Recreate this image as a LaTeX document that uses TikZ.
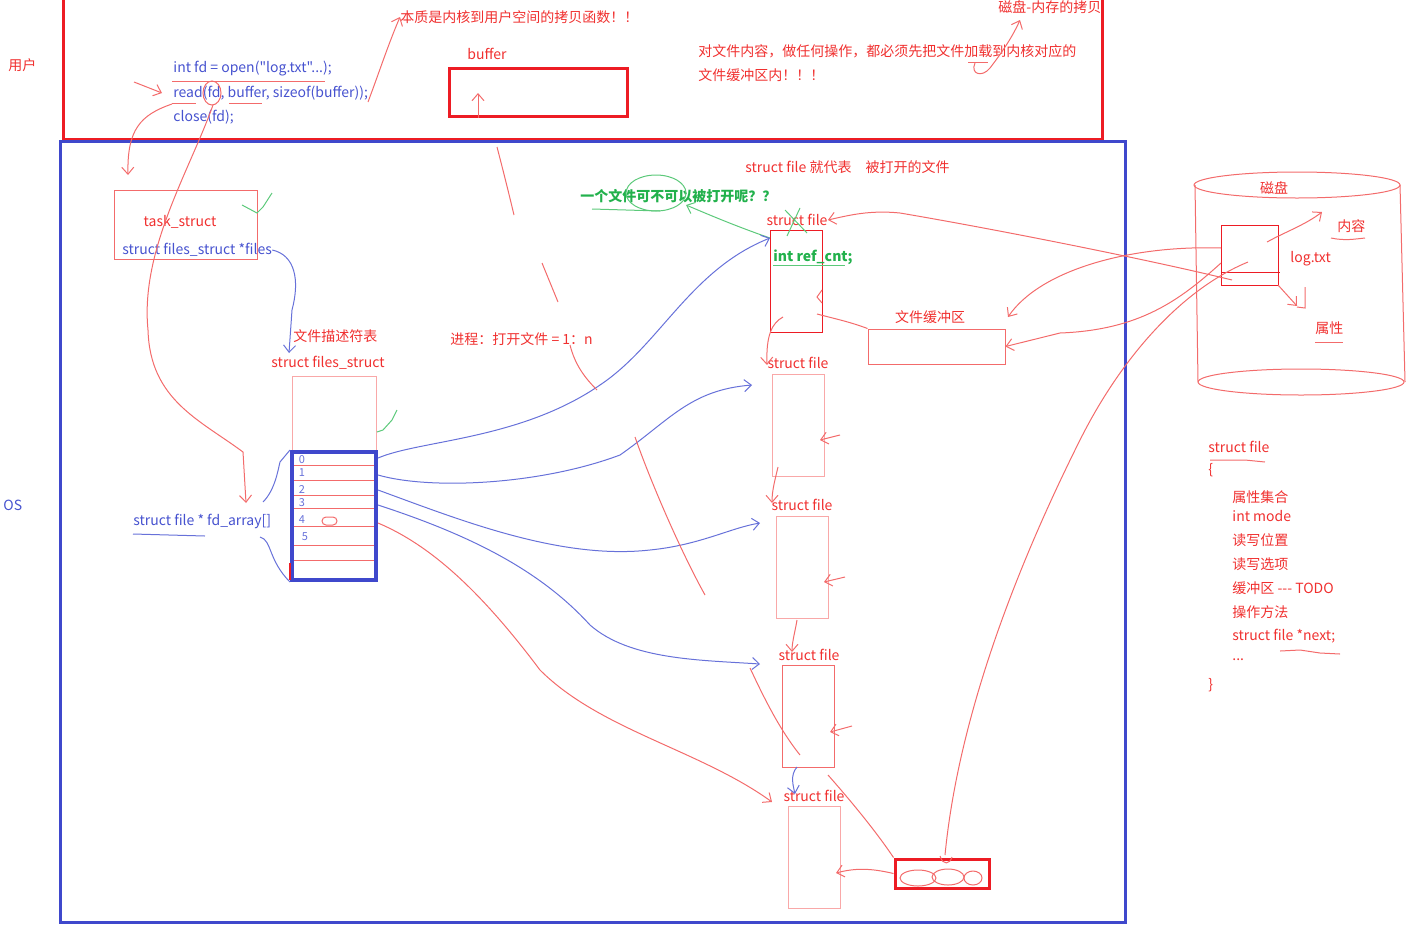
\documentclass[tikz,border=0pt]{standalone}
\usepackage{fontspec}
\setmainfont{Noto Sans CJK SC}
\newfontfamily\plainfont{Noto Sans CJK SC}
\usetikzlibrary{arrows.meta,fit,calc}
\definecolor{rd}{HTML}{ED1C24}
\definecolor{rt}{HTML}{F0302F}
\definecolor{rl}{HTML}{F36B6B}
\definecolor{rp}{HTML}{F9A8A8}
\definecolor{bl}{HTML}{3F48CC}
\definecolor{bt}{HTML}{4652CF}
\definecolor{bc}{HTML}{6771D9}
\definecolor{gr}{HTML}{22B14C}
\definecolor{gl}{HTML}{5CC97A}
\begin{document}
\begin{tikzpicture}[x=0.5pt,y=-0.5pt,
  t/.style={font=\fontsize{7}{8}\selectfont, inner sep=0pt, anchor=west},
  tr/.style={t, text=rt},
  tb/.style={t, text=bt},
  tg/.style={t, text=gr, font=\fontsize{7}{8}\selectfont\bfseries},
  num/.style={inner sep=0pt, text=bc, font=\fontsize{5.5}{5.5}\selectfont\itshape},
  fitbox/.style={inner sep=0pt, draw, line width=0.5pt},
  hand/.style={line width=0.5pt, rl},
  handb/.style={line width=0.5pt, bc},
  handg/.style={line width=0.5pt, gl},
  ah/.style={-{Straight Barb[length=3.5pt,width=6pt]}},
]
\useasboundingbox (0,0) rectangle (1417,932);

% ---------- frames
\node[fitbox, rd, line width=1.5pt, fit={(63,-20)(1102,139)}] (user) {};
\node[fitbox, bl, line width=1.5pt, fit={(60,141)(1125,922)}] (os) {};
\node[tr] (lu) at (8,65) {用户};
\node[tb] (los) at (3,505) {OS};

% ---------- user space
\node[tb] (l1) at (173,69) {\plainfont int fd = open("log.txt"...);};
\node[tb] (l2) at (173,93) {read(fd, buffer, sizeof(buffer));};
\node[tb] (l3) at (173,117) {close(fd);};
\node[tr] (ess) at (400,17) {本质是内核到用户空间的拷贝函数！！};
\node[tr, anchor=center] (bufl) at (487,54) {buffer};
\node[fitbox, rd, line width=1.5pt, fit={(449,68)(627,116)}] (buf) {};
\node[tr] (dm) at (998,7) {磁盘-内存的拷贝};
\node[tr] (n1) at (698,51) {对文件内容，做任何操作，都必须先把文件加载到内核对应的};
\node[tr] (n2) at (698,75) {文件缓冲区内！！！};

% annotations in user space
\draw[hand] (172,81) -- (325,81);
\draw[hand] (172,103) -- (196,103);
\draw[hand] (229,103) -- (262,103);
\draw[hand] (212,93) ellipse [x radius=9, y radius=12];
\coordinate (ra) at (134,82);
\coordinate (rb) at (162,93);
\draw[hand, ah] (ra) -- (rb);
\coordinate (essa) at (368,102);
\draw[hand, ah] (essa) .. controls (380,70) and (388,45) .. (ess.west);
\coordinate (bua) at (478,118);
\coordinate (bub) at (478,93);
\draw[hand, ah] (bua) -- (bub);
\draw[hand] (968,62) -- (988,62);
\coordinate (lda) at (975,63);
\draw[hand, ah] (lda) .. controls (970,74) and (982,78) .. (990,68) .. controls (1000,55) and (1012,38) .. (1020,20);

% ---------- task_struct
\node[fitbox, rl, fit={(114,190)(257,259)}] (task) {};
\node[tr, anchor=center] (taskl) at (180,222) {task\_struct};
\node[tb] (files) at (122,250) {struct files\_struct *files};
\draw[handg] (242,205) -- (257,213) -- (263,207) -- (272,193);

% ---------- files_struct
\node[tr] (fdt) at (293,336) {文件描述符表};
\node[tr, anchor=center] (fsl) at (328,363) {struct files\_struct};
\node[fitbox, rp, fit={(292,376)(376,452)}] (fs) {};
\foreach \y in {465,480,495,508,526,545,560} \draw[rl, line width=0.5pt] (293,\y) -- (375,\y);
\node[fitbox, bl, line width=2pt, fit={(292,452)(376,580)}] (fa) {};
\node[num] at (302,460) {0};
\node[num] at (302,473) {1};
\node[num] at (302,489) {2};
\node[num] at (302,503) {3};
\node[num] at (302,520) {4};
\node[num] at (305,537) {5};
\draw[hand, rounded corners=2pt] (322,517) rectangle (337,525);
\draw[rd, line width=0.7pt] (290,563) -- (290,580);
\draw[handg] (377,432) -- (383,430) -- (392,420) -- (397,410);

\node[tb] (fdarr) at (133,521) {struct file * fd\_array[]};
\draw[handb] (133,534) -- (205,536);
\draw[handb] (263,502) .. controls (275,490) and (278,470) .. (280,462) -- (fa.north west);
\draw[handb] (260,537) .. controls (272,540) and (268,560) .. (fa.south west);

% files pointer and read arrows
\draw[handb, ah] (files.east) .. controls (295,255) and (300,280) .. (292,310) -- (289,353);
\coordinate (cfd) at (213,105);
\coordinate (fd3) at (246,503);
\draw[hand, ah] (cfd) .. controls (190,170) and (140,250) .. (148,330) .. controls (150,400) and (200,420) .. (243,452) -- (fd3);
\coordinate (rdl) at (172,104);
\draw[hand, ah] (rdl) .. controls (140,115) and (127,130) .. (128,175);

% ---------- middle texts
\node[tr] (proc) at (450,339) {进程：打开文件 = 1：n};
\node[tr] (rep) at (745,167) {struct file 就代表\quad 被打开的文件};
\node[tg] (q) at (580,196) {一个文件可不可以被打开呢？？};
\draw[handg] (592,209) -- (660,211);
\draw[handg] (656,193) ellipse [x radius=30, y radius=18];

% ---------- struct file boxes
\node[tr, anchor=center] (sf1l) at (797,220) {struct file};
\node[fitbox, rd, fit={(770,230)(822,332)}] (sf1) {};
\node[tg] (ref) at (773,257) {int ref\_cnt;};
\draw[handg] (773,265) -- (845,265);
\draw[handg] (785,210) -- (807,233);
\draw[handg] (800,208) -- (787,236);
\coordinate (sf1in) at (770,238);
\coordinate (qa) at (686,205);
\draw[handg, ah] (sf1in) .. controls (735,226) and (705,213) .. (qa);

\node[tr, anchor=center] (sf2l) at (798,363) {struct file};
\node[fitbox, rp, fit={(772,374)(824,476)}] (sf2) {};
\node[tr, anchor=center] (sf3l) at (802,505) {struct file};
\node[fitbox, rp, fit={(776,516)(828,618)}] (sf3) {};
\node[tr, anchor=center] (sf4l) at (809,655) {struct file};
\node[fitbox, rl, fit={(782,665)(834,767)}] (sf4) {};
\node[tr, anchor=center] (sf5l) at (814,796) {struct file};
\node[fitbox, rp, fit={(788,806)(840,908)}] (sf5) {};

% linked list
\draw[hand, ah] (783,317) .. controls (772,323) and (766,335) .. (767,365);
\draw[hand, ah] (778,467) .. controls (775,480) and (772,490) .. (772,503);
\draw[hand, ah] (797,620) .. controls (795,632) and (792,642) .. (792,652);
\draw[handb, ah] (797,767) .. controls (790,775) and (793,785) .. (795,794);
\draw[hand] (822,290) -- (817,297) -- (822,303);

% right arrows into the boxes
\draw[hand, ah] (840,435) -- (820,440);
\draw[hand, ah] (845,577) -- (824,582);
\draw[hand, ah] (852,726) -- (830,732);

% ---------- fd -> file curves
\draw[handb, ah] (378,458) .. controls (420,440) and (520,440) .. (600,385) .. controls (660,345) and (690,270) .. (sf1in);
\coordinate (e2) at (752,385);
\draw[handb, ah] (378,475) .. controls (430,490) and (540,485) .. (620,455) .. controls (670,420) and (690,390) .. (e2);
\coordinate (e3) at (760,523);
\draw[handb, ah] (378,490) .. controls (460,520) and (560,560) .. (650,550) .. controls (700,545) and (730,528) .. (e3);
\coordinate (e4) at (760,664);
\draw[handb, ah] (378,505) .. controls (470,535) and (540,570) .. (590,625) .. controls (630,660) and (700,660) .. (e4);
\coordinate (e5) at (772,802);
\draw[hand, ah] (378,523) .. controls (430,545) and (480,590) .. (540,670) .. controls (600,730) and (700,750) .. (e5);

% crossing red strokes
\draw[hand] (497,147) .. controls (503,170) and (508,190) .. (514,215);
\draw[hand] (542,263) -- (558,302);
\draw[hand] (570,345) .. controls (575,365) and (585,378) .. (597,390);
\draw[hand] (635,437) .. controls (650,480) and (680,550) .. (705,595);
\draw[hand] (750,668) .. controls (765,700) and (780,730) .. (800,755);

% ---------- file buffer
\node[tr, anchor=center] (fbl) at (930,317) {文件缓冲区};
\node[fitbox, rl, fit={(868,329)(1005,364)}] (fbuf) {};
\draw[hand] (817,314) .. controls (840,320) and (850,322) .. (fbuf.north west);

% ---------- disk
\draw[hand] (1297,185) ellipse [x radius=103, y radius=13];
\draw[hand] (1301,382) ellipse [x radius=103, y radius=13];
\draw[hand] (1195,185) -- (1198,382);
\draw[hand] (1400,185) -- (1405,382);
\node[tr, anchor=center] (diskl) at (1274,188) {磁盘};
\node[fitbox, rd, fit={(1221,225)(1278,285)}] (log) {};
\draw[rd, line width=0.5pt] (1221,272) -- (1280,272);
\node[tr] (logl) at (1290,259) {log.txt};
\node[tr] (cont) at (1337,226) {内容};
\node[tr] (attr) at (1315,328) {属性};
\draw[hand] (1331,238) .. controls (1345,241) and (1355,239) .. (1365,238);
\draw[hand] (1315,342) -- (1343,342);
\coordinate (ca) at (1267,242);
\draw[hand, ah] (ca) .. controls (1285,232) and (1305,225) .. (1322,212);
\coordinate (aa) at (1278,285);
\draw[hand, ah] (aa) -- (1297,306);
\draw[hand] (1305,287) -- (1305,308) -- (1297,307);

% disk -> kernel curves
\coordinate (la) at (1232,280);
\draw[hand, ah] (la) .. controls (1150,260) and (1000,230) .. (900,213) .. controls (870,210) and (850,215) .. (sf1l.east);
\coordinate (lb) at (1221,248);
\coordinate (lbe) at (1008,317);
\draw[hand, ah] (lb) .. controls (1130,245) and (1040,270) .. (lbe);
\coordinate (lc) at (1221,263);
\draw[hand, ah] (lc) .. controls (1180,300) and (1140,330) .. (1060,333) -- (fbuf.east);

% ---------- bottom cache box
\node[fitbox, rd, line width=1.5pt, fit={(895,859)(989,888)}] (cache) {};
\draw[hand] (918,878) ellipse [x radius=18, y radius=8];
\draw[hand] (948,877) ellipse [x radius=16, y radius=8];
\draw[hand] (973,878) ellipse [x radius=9, y radius=7];
\coordinate (ld) at (1248,262);
\draw[hand] (ld) .. controls (1180,290) and (1120,360) .. (1080,440) .. controls (1030,540) and (960,700) .. (945,855);
\draw[hand] (940,856) .. controls (943,866) and (950,864) .. (952,857);
\draw[hand] (828,775) .. controls (850,800) and (875,830) .. (cache.north west);
\draw[hand, ah] (cache.west) .. controls (870,868) and (855,868) .. (836,873);

% ---------- struct file definition
\node[tr] (d0) at (1208,447) {struct file};
\draw[hand] (1210,460) -- (1245,460) -- (1265,462);
\node[tr] (d1) at (1208,470) {\{};
\node[tr] (d2) at (1232,497) {属性集合};
\node[tr] (d3) at (1232,516) {int mode};
\node[tr] (d4) at (1232,540) {读写位置};
\node[tr] (d5) at (1232,564) {读写选项};
\node[tr] (d6) at (1232,588) {\plainfont 缓冲区 --- TODO};
\node[tr] (d7) at (1232,612) {操作方法};
\node[tr] (d8) at (1232,636) {struct file *next;};
\draw[hand] (1280,651) -- (1300,650) -- (1320,653) -- (1340,654);
\node[tr] (d9) at (1232,660) {...};
\node[tr] (d10) at (1208,685) {\}};
\end{tikzpicture}
\end{document}
